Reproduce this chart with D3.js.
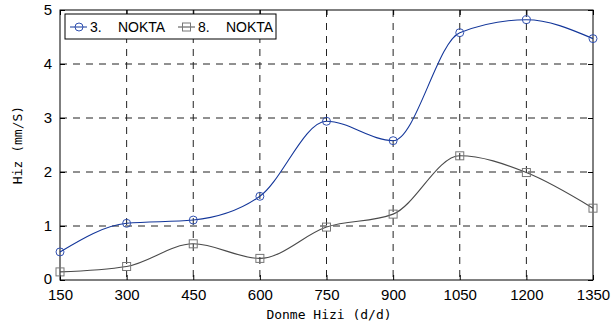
<!DOCTYPE html>
<html lang="en">
<head>
<meta charset="UTF-8">
<title>Hiz</title>
<script src="https://cdn.jsdelivr.net/npm/d3@7"></script>
<style>
    body { margin: 0; background: #fff; }
    .tick text { font-family: "Liberation Sans", Arial, sans-serif; font-size: 15px; fill: #000; }
    .lbl { font-family: "DejaVu Sans Mono", monospace; font-size: 13px; fill: #000; }
    .leg { font-family: "Liberation Sans", Arial, sans-serif; font-size: 14px; fill: #000; }
</style>
</head>
<body>
<svg id="svg" width="612" height="327"></svg>
<script>
    var speeds = [150, 300, 450, 600, 750, 900, 1050, 1200, 1350];
    var nokta3 = [0.52, 1.05, 1.11, 1.55, 2.94, 2.58, 4.58, 4.82, 4.47];
    var nokta8 = [0.15, 0.25, 0.67, 0.40, 0.98, 1.22, 2.30, 1.99, 1.33];
    var yTicks = [0, 1, 2, 3, 4, 5];
    var seriesNames = ["3.", "8."];

    var m = {left: 60, right: 19, top: 10, bottom: 47};
    var w = 612 - m.left - m.right;
    var h = 327 - m.top - m.bottom;

    var svg = d3.select("#svg");
    var g = svg.append("g").attr("transform", "translate(" + m.left + "," + m.top + ")");

    var x = d3.scaleLinear().domain([150, 1350]).range([0, w]);
    var y = d3.scaleLinear().domain([0, 5]).range([h, 0]);

    // grid
    g.selectAll(".gx").data(speeds.slice(1, -1)).enter().append("line")
        .attr("x1", function (d) { return x(d); }).attr("x2", function (d) { return x(d); })
        .attr("y1", 0).attr("y2", h)
        .attr("stroke", "#222").attr("stroke-dasharray", "7,6");
    g.selectAll(".gy").data(yTicks.slice(1, -1)).enter().append("line")
        .attr("y1", function (d) { return y(d); }).attr("y2", function (d) { return y(d); })
        .attr("x1", 0).attr("x2", w)
        .attr("stroke", "#222").attr("stroke-dasharray", "7,6");

    // axes
    g.append("g").attr("transform", "translate(0," + h + ")")
        .call(d3.axisBottom(x).tickValues(speeds).tickSize(-5).tickPadding(9).tickFormat(d3.format("d")));
    var yAx = g.append("g")
        .call(d3.axisLeft(y).tickValues(yTicks).tickSize(-5).tickPadding(8).tickFormat(d3.format("d")));
    yAx.selectAll(".tick text").filter(function (d) { return d === 0; }).attr("dy", "0.2em");
    g.append("g").call(d3.axisTop(x).tickValues(speeds).tickSize(-5).tickFormat(""));
    g.append("g").attr("transform", "translate(" + w + ",0)")
        .call(d3.axisRight(y).tickValues(yTicks).tickSize(-5).tickFormat(""));
    g.selectAll(".domain").remove();
    g.append("rect").attr("width", w).attr("height", h)
        .attr("fill", "none").attr("stroke", "#000");

    var line = d3.line().curve(d3.curveMonotoneX)
        .x(function (d, i) { return x(speeds[i]); }).y(function (d) { return y(d); });

    g.append("path").datum(nokta8).attr("d", line)
        .attr("fill", "none").attr("stroke", "#4a4a4a").attr("stroke-width", 1.1);
    g.append("path").datum(nokta3).attr("d", line)
        .attr("fill", "none").attr("stroke", "#13369a").attr("stroke-width", 1.1);

    g.selectAll(".sq").data(nokta8).enter().append("rect")
        .attr("x", function (d, i) { return x(speeds[i]) - 4; })
        .attr("y", function (d) { return y(d) - 4; })
        .attr("width", 8).attr("height", 8)
        .attr("fill", "none").attr("stroke", "#777");
    g.selectAll(".ci").data(nokta3).enter().append("circle")
        .attr("cx", function (d, i) { return x(speeds[i]); })
        .attr("cy", function (d) { return y(d); })
        .attr("r", 4).attr("fill", "none").attr("stroke", "#3050b0");

    // labels
    svg.append("text").attr("class", "lbl").attr("text-anchor", "middle")
        .attr("x", 329).attr("y", 319).text("Donme Hizi (d/d)");
    svg.append("text").attr("class", "lbl").attr("text-anchor", "middle")
        .attr("transform", "translate(22," + (m.top + h / 2) + ") rotate(-90)")
        .text("Hiz (mm/S)");

    // legend
    var lg = svg.append("g").attr("transform", "translate(65,14)");
    lg.append("rect").attr("width", 211).attr("height", 25)
        .attr("fill", "#fff").attr("stroke", "#000");
    var lx = [5, 113];
    lg.selectAll(".ll").data(seriesNames).enter().append("line")
        .attr("x1", function (d, i) { return lx[i]; })
        .attr("x2", function (d, i) { return lx[i] + 17; })
        .attr("y1", 13).attr("y2", 13)
        .attr("stroke", function (d, i) { return i === 0 ? "#13369a" : "#4a4a4a"; });
    lg.append("circle").attr("cx", lx[0] + 9).attr("cy", 13).attr("r", 4)
        .attr("fill", "none").attr("stroke", "#3050b0");
    lg.append("rect").attr("x", lx[1] + 4.5).attr("y", 9).attr("width", 8).attr("height", 8)
        .attr("fill", "none").attr("stroke", "#777");
    var lt = lg.selectAll(".lt").data(seriesNames).enter().append("text")
        .attr("class", "leg").attr("y", 18);
    lt.append("tspan").attr("x", function (d, i) { return lx[i] + 20; }).text(function (d) { return d; });
    lt.append("tspan").attr("x", function (d, i) { return lx[i] + 48; }).text("NOKTA");
</script>
</body>
</html>
